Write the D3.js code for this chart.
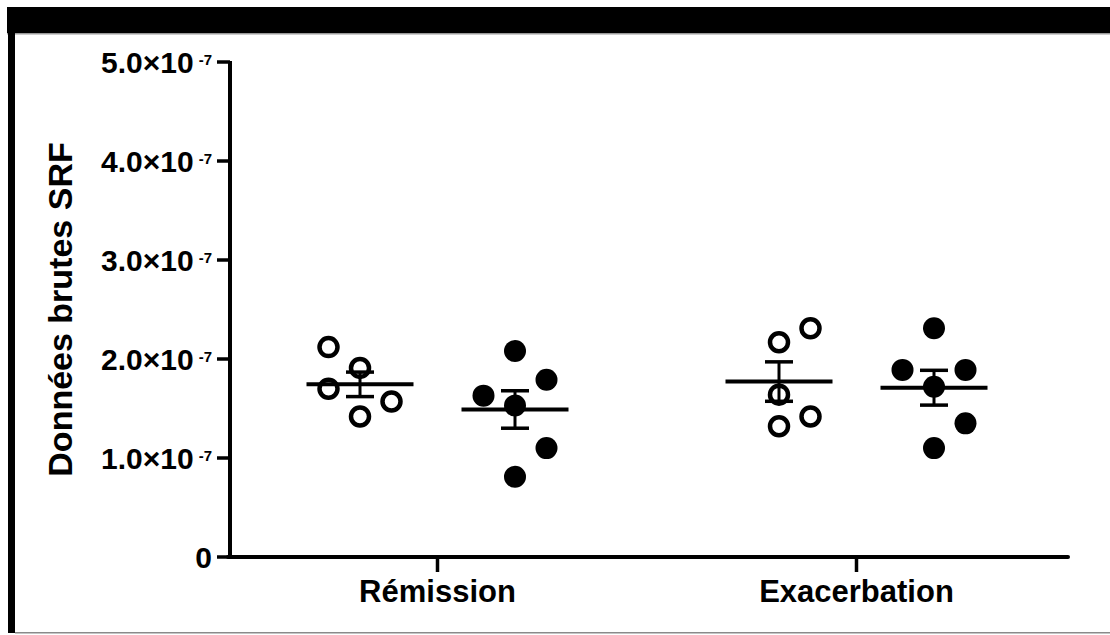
<!DOCTYPE html>
<html>
<head>
<meta charset="utf-8">
<script src="https://cdn.jsdelivr.net/npm/d3@7"></script>
<style>
  html, body { margin: 0; padding: 0; background: #fff; }
  svg { display: block; }
  text { font-family: "Liberation Sans", Arial, sans-serif; font-weight: bold; fill: #000; }
</style>
</head>
<body>
<svg id="chart" width="1110" height="635"></svg>
<script>
// Categories and the two point series drawn in each of them
const categories = ["Rémission", "Exacerbation"];
const seriesKeys = ["ouvert", "plein"];

// Raw SRF values per group
const remissionOuvert     = [2.12e-7, 1.91e-7, 1.70e-7, 1.57e-7, 1.42e-7];
const remissionPlein      = [2.08e-7, 1.79e-7, 1.63e-7, 1.53e-7, 1.10e-7, 0.81e-7];
const exacerbationOuvert  = [2.31e-7, 2.17e-7, 1.64e-7, 1.42e-7, 1.32e-7];
const exacerbationPlein   = [2.31e-7, 1.89e-7, 1.89e-7, 1.72e-7, 1.35e-7, 1.10e-7];

// Scatter column (lane) of each point inside its group
const remissionOuvertLanes    = [-1, 0, -1, 1, 0];
const remissionPleinLanes     = [0, 1, -1, 0, 1, 0];
const exacerbationOuvertLanes = [1, 0, 0, 1, 0];
const exacerbationPleinLanes  = [0, -1, 1, 0, 1, 0];

// Y axis ticks
const yTickValues   = [0, 1e-7, 2e-7, 3e-7, 4e-7, 5e-7];
const yTickMantissa = ["0", "1.0×10", "2.0×10", "3.0×10", "4.0×10", "5.0×10"];
const yTickExponent = ["", "-7", "-7", "-7", "-7", "-7"];

const yTitle = "Données brutes SRF";

// Group table built from the arrays above
const groups = [
  { cat: categories[0], key: seriesKeys[0], values: remissionOuvert,    lanes: remissionOuvertLanes },
  { cat: categories[0], key: seriesKeys[1], values: remissionPlein,     lanes: remissionPleinLanes },
  { cat: categories[1], key: seriesKeys[0], values: exacerbationOuvert, lanes: exacerbationOuvertLanes },
  { cat: categories[1], key: seriesKeys[1], values: exacerbationPlein,  lanes: exacerbationPleinLanes }
];

const svg = d3.select("#chart");

// Window frame: black title band, left bar, thin grey edges
svg.append("rect").attr("x", 7).attr("y", 7).attr("width", 1103).attr("height", 26).attr("fill", "#000");
svg.append("rect").attr("x", 7).attr("y", 33).attr("width", 1103).attr("height", 1.5).attr("fill", "#9a9a9a");
svg.append("rect").attr("x", 8).attr("y", 7).attr("width", 7).attr("height", 626).attr("fill", "#000");
svg.append("rect").attr("x", 15).attr("y", 632).attr("width", 1095).attr("height", 1.5).attr("fill", "#8a8a8a");

// Scales
const axisX = 230, axisY = 557, xEnd = 1068;
const y = d3.scaleLinear().domain([0, 5e-7]).range([axisY, 62]);
const x = d3.scaleBand().domain(categories).range([228, 1066]).padding(0);
const sx = d3.scalePoint().domain(seriesKeys).range([-77.5, 77.5]);
const laneStep = 31.5;
const groupX = g => x(g.cat) + x.bandwidth() / 2 + sx(g.key);

// Axis lines
svg.append("line")
  .attr("x1", axisX).attr("x2", axisX)
  .attr("y1", axisY + 2).attr("y2", y(5e-7) - 1)
  .attr("stroke", "#000").attr("stroke-width", 4);
svg.append("line")
  .attr("x1", axisX - 2).attr("x2", xEnd)
  .attr("y1", axisY).attr("y2", axisY)
  .attr("stroke", "#000").attr("stroke-width", 4).attr("stroke-linecap", "round");

// Y ticks and labels
const yt = svg.append("g").selectAll("g").data(yTickValues).join("g")
  .attr("transform", d => `translate(0,${y(d)})`);
yt.append("line")
  .attr("x1", 217).attr("x2", axisX)
  .attr("stroke", "#000").attr("stroke-width", 3.5);
const ytText = yt.append("text")
  .attr("x", 212).attr("y", 11)
  .attr("text-anchor", "end")
  .attr("font-size", 30);
ytText.append("tspan").text((d, i) => yTickMantissa[i]);
ytText.filter((d, i) => yTickExponent[i] !== "")
  .append("tspan")
  .attr("dx", 5).attr("dy", -8)
  .attr("font-size", 15)
  .text((d, i) => yTickExponent[yTickValues.indexOf(d)]);

// X ticks and category labels
const xt = svg.append("g").selectAll("g").data(categories).join("g")
  .attr("transform", d => `translate(${x(d) + x.bandwidth() / 2},0)`);
xt.append("line")
  .attr("y1", axisY).attr("y2", 572)
  .attr("stroke", "#000").attr("stroke-width", 3.5);
xt.append("text")
  .attr("y", 602)
  .attr("text-anchor", "middle")
  .attr("font-size", 31)
  .text(d => d);

// Y title
svg.append("text")
  .attr("transform", `translate(72,${(y(0) + y(5e-7)) / 2}) rotate(-90)`)
  .attr("text-anchor", "middle")
  .attr("font-size", 34)
  .text(yTitle);

// Points
const pts = svg.append("g");
groups.forEach(g => {
  const cx = groupX(g);
  pts.selectAll(null).data(g.values).join("circle")
    .attr("cx", (d, i) => cx + g.lanes[i] * laneStep)
    .attr("cy", d => y(d))
    .attr("r", g.key === "plein" ? 11 : 9)
    .attr("fill", g.key === "plein" ? "#000" : "none")
    .attr("stroke", g.key === "plein" ? "none" : "#000")
    .attr("stroke-width", 4.5);
});

// Mean and SEM for each group
const stats = svg.append("g");
groups.forEach(g => {
  const cx = groupX(g);
  const m = d3.mean(g.values);
  const sem = d3.deviation(g.values) / Math.sqrt(g.values.length);
  stats.append("line")
    .attr("x1", cx - 53.5).attr("x2", cx + 53.5)
    .attr("y1", y(m)).attr("y2", y(m))
    .attr("stroke", "#000").attr("stroke-width", 4);
  stats.append("line")
    .attr("x1", cx).attr("x2", cx)
    .attr("y1", y(m + sem)).attr("y2", y(m - sem))
    .attr("stroke", "#000").attr("stroke-width", 3);
  [m + sem, m - sem].forEach(v => {
    stats.append("line")
      .attr("x1", cx - 14).attr("x2", cx + 14)
      .attr("y1", y(v)).attr("y2", y(v))
      .attr("stroke", "#000").attr("stroke-width", 3.5);
  });
});
</script>
</body>
</html>
